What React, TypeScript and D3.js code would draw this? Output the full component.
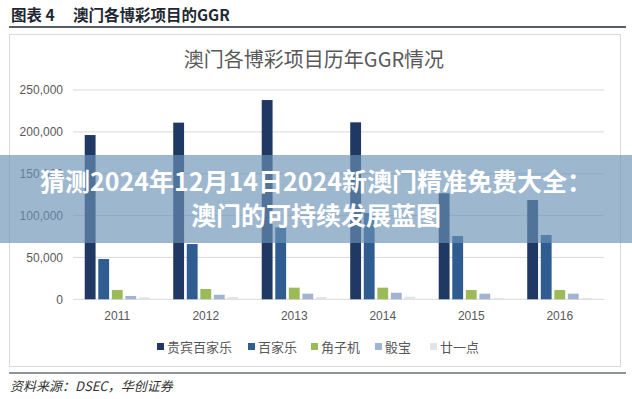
import React, { useEffect, useRef } from "react";
import * as d3 from "d3";

// data (MOP million)
const years = ["2011", "2012", "2013", "2014", "2015", "2016"];
const seriesNames = ["贵宾百家乐", "百家乐", "角子机", "骰宝", "廿一点"];
const vipBaccarat = [196200, 211000, 238000, 211400, 126600, 118600];
const massBaccarat = [48100, 66000, 86000, 103000, 75600, 76800];
const slots = [11100, 12300, 13900, 13900, 11100, 11100];
const sicBo = [4000, 5500, 6700, 7900, 6700, 6700];
const blackjack = [2400, 2700, 2700, 3100, 1500, 1500];
const yTicks = [0, 50000, 100000, 150000, 200000, 250000];
const colors = ["#203864", "#2f5d91", "#9bbb59", "#a3b3d3", "#e1e4e9"];

const W = 632;
const H = 399;
const FONT = "'Liberation Sans', 'Noto Sans CJK SC', sans-serif";
const CJK = "'Noto Sans CJK SC', 'Liberation Sans', sans-serif";

const App = () => {
  const svgRef = useRef<SVGSVGElement | null>(null);

  useEffect(() => {
    if (!svgRef.current) return;
    const svg = d3.select(svgRef.current);
    svg.selectAll("*").remove();

    const values = [vipBaccarat, massBaccarat, slots, sicBo, blackjack];

    svg.append("rect").attr("width", W).attr("height", H).attr("fill", "#fff");

    // header
    svg
      .append("text")
      .attr("x", 11)
      .attr("y", 21)
      .attr("font-family", CJK)
      .attr("font-weight", "bold")
      .attr("font-size", 15.5)
      .attr("fill", "#1e2833")
      .text("图表 4");
    svg
      .append("text")
      .attr("x", 73)
      .attr("y", 21)
      .attr("font-family", CJK)
      .attr("font-weight", "bold")
      .attr("font-size", 15.5)
      .attr("fill", "#1e2833")
      .text("澳门各博彩项目的GGR");
    svg
      .append("line")
      .attr("x1", 9)
      .attr("x2", 626)
      .attr("y1", 27)
      .attr("y2", 27)
      .attr("stroke", "#1e2833")
      .attr("stroke-width", 1.5);

    // chart frame
    svg
      .append("rect")
      .attr("x", 9.5)
      .attr("y", 34.5)
      .attr("width", 611)
      .attr("height", 332)
      .attr("fill", "#fff")
      .attr("stroke", "#d9d9d9");

    svg
      .append("text")
      .attr("x", 314)
      .attr("y", 67)
      .attr("text-anchor", "middle")
      .attr("font-family", CJK)
      .attr("font-size", 20)
      .attr("fill", "#595959")
      .text("澳门各博彩项目历年GGR情况");

    const x0 = d3
      .scaleBand()
      .domain(years)
      .range([73, 604])
      .paddingInner(0.265)
      .paddingOuter(0.1325);
    const x1 = d3
      .scaleBand()
      .domain(seriesNames)
      .range([0, x0.bandwidth()])
      .paddingInner(0.2);
    const y = d3.scaleLinear().domain([0, 250000]).range([299.3, 90]);

    // grid + y labels
    yTicks.forEach((t) => {
      svg
        .append("line")
        .attr("x1", 73)
        .attr("x2", 604)
        .attr("y1", y(t))
        .attr("y2", y(t))
        .attr("stroke", "#d9d9d9")
        .attr("stroke-width", 1);
      svg
        .append("text")
        .attr("x", 63)
        .attr("y", y(t))
        .attr("dy", "0.35em")
        .attr("text-anchor", "end")
        .attr("font-family", FONT)
        .attr("font-size", 12)
        .attr("fill", "#595959")
        .text(d3.format(",")(t));
    });

    // bars
    years.forEach((yr, i) => {
      const g = svg.append("g").attr("transform", `translate(${x0(yr)},0)`);
      seriesNames.forEach((s, j) => {
        const v = values[j][i];
        g.append("rect")
          .attr("x", x1(s)!)
          .attr("y", y(v))
          .attr("width", x1.bandwidth())
          .attr("height", y(0) - y(v))
          .attr("fill", colors[j]);
      });
      svg
        .append("text")
        .attr("x", x0(yr)! + x0.bandwidth() / 2)
        .attr("y", 320)
        .attr("text-anchor", "middle")
        .attr("font-family", FONT)
        .attr("font-size", 12)
        .attr("fill", "#595959")
        .text(yr);
    });

    // legend
    const legendX = [157, 248, 311, 375, 430];
    seriesNames.forEach((s, j) => {
      svg
        .append("rect")
        .attr("x", legendX[j])
        .attr("y", 343)
        .attr("width", 7)
        .attr("height", 7)
        .attr("fill", colors[j]);
      svg
        .append("text")
        .attr("x", legendX[j] + 10)
        .attr("y", 347)
        .attr("dy", "0.35em")
        .attr("font-family", CJK)
        .attr("font-size", 13)
        .attr("fill", "#595959")
        .text(s);
    });

    // footer
    svg
      .append("line")
      .attr("x1", 9)
      .attr("x2", 626)
      .attr("y1", 373)
      .attr("y2", 373)
      .attr("stroke", "#1e2833")
      .attr("stroke-width", 1);
    svg
      .append("text")
      .attr("x", 10)
      .attr("y", 391)
      .attr("font-family", CJK)
      .attr("font-style", "italic")
      .attr("font-size", 13)
      .attr("fill", "#333")
      .text("资料来源：DSEC，华创证券");

    // overlay banner
    svg
      .append("rect")
      .attr("x", 0)
      .attr("y", 155)
      .attr("width", W)
      .attr("height", 88)
      .attr("fill", "#6a92b6")
      .attr("opacity", 0.66);
    const bannerLines = ["猜测2024年12月14日2024新澳门精准免费大全：", "澳门的可持续发展蓝图"];
    bannerLines.forEach((line, k) => {
      svg
        .append("text")
        .attr("x", 316)
        .attr("y", 182 + k * 34)
        .attr("dy", "0.35em")
        .attr("text-anchor", "middle")
        .attr("font-family", CJK)
        .attr("font-weight", "bold")
        .attr("font-size", 25)
        .attr("fill", "#fff")
        .text(line);
    });
  }, []);

  return (
    <div style={{ position: "absolute", left: 0, top: 0 }}>
      <svg ref={svgRef} width={W} height={H} style={{ display: "block" }} />
    </div>
  );
};

export default App;
